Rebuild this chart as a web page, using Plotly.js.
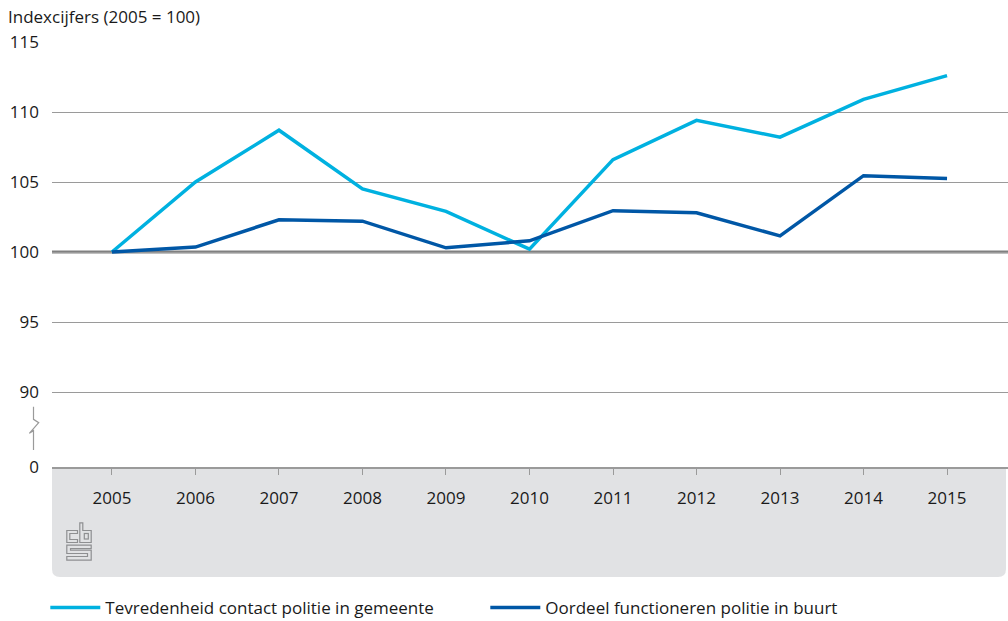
<!DOCTYPE html>
<html>
<head>
<meta charset="utf-8">
<script src="https://cdn.plot.ly/plotly-3.0.1.min.js"></script>
<style>html,body{margin:0;padding:0;background:#fff;}#chart{width:1008px;height:621px;}</style>
</head>
<body>
<div id="chart"></div>
<script>
// Data
var years = [2005, 2006, 2007, 2008, 2009, 2010, 2011, 2012, 2013, 2014, 2015];
var tevredenheid = [100, 105.0, 108.7, 104.5, 102.9, 100.2, 106.6, 109.4, 108.2, 110.9, 112.6];
var oordeel = [100, 100.35, 102.3, 102.2, 100.3, 100.8, 102.95, 102.8, 101.15, 105.45, 105.25];
var seriesNames = ['Tevredenheid contact politie in gemeente', 'Oordeel functioneren politie in buurt'];
var yTickLabels = ['0', '90', '95', '100', '105', '110', '115'];
var yTickValues = [90, 95, 100, 105, 110, 115];
var titleText = 'Indexcijfers (2005 = 100)';

var FONT = 'Open Sans, Liberation Sans, sans-serif';
var FS = 17;
var yBottom = 84.643; // position where the broken axis shows 0
var tickvals = [yBottom].concat(yTickValues);

var logoSvg = '<svg xmlns="http://www.w3.org/2000/svg" width="26" height="39" viewBox="0 0 26 39">' +
  '<g fill="none" stroke="#8e8f91" stroke-width="1.2">' +
  '<path d="M11.5,8.5 H0.8 V20.5 H11.5 V17.5 H3.8 V11.5 H11.5 Z"/>' +
  '<path d="M13.8,0.8 V20.5 H25.2 V8.5 H16.8 V0.8 Z"/>' +
  '<rect x="18.3" y="11.5" width="4" height="5.5"/>' +
  '<path d="M25.2,23.2 H0.8 V31.5 H21.5 V34.5 H0.8 V38.2 H25.2 V28.2 H4.5 V26.5 H25.2 Z"/>' +
  '</g></svg>';

var traces = [
  {x: years, y: tevredenheid, name: seriesNames[0], type: 'scatter', mode: 'lines',
   line: {color: '#00b1e0', width: 3.5}},
  {x: years, y: oordeel, name: seriesNames[1], type: 'scatter', mode: 'lines',
   line: {color: '#0057a6', width: 3.5}}
];

var pw = 956, ph = 425;
var layout = {
  width: 1008, height: 621,
  margin: {l: 52, r: 0, t: 42, b: 154, autoexpand: false},
  paper_bgcolor: '#ffffff', plot_bgcolor: '#ffffff',
  font: {family: FONT, size: FS, color: '#1a1a1a'},
  title: {text: titleText, x: 8/1008, xref: 'container', xanchor: 'left',
          y: 1 - 17/621, yref: 'container', yanchor: 'middle',
          font: {family: FONT, size: FS, color: '#1a1a1a'}},
  showlegend: true,
  legend: {orientation: 'h', x: -0.007, xanchor: 'left', y: (467-608)/425, yanchor: 'middle',
           font: {family: FONT, size: FS, color: '#1a1a1a'},
           entrywidth: 375, entrywidthmode: 'pixels', itemwidth: 50,
           bgcolor: 'rgba(0,0,0,0)'},
  xaxis: {range: [2004.282, 2015.73], tickvals: years, ticktext: years.map(String),
          showgrid: false, zeroline: false, showline: true, linecolor: '#9a9a9a', linewidth: 1.5,
          ticks: 'outside', ticklen: 6, tickcolor: '#9a9a9a', tickwidth: 1,
          ticklabelstandoff: 9, tickfont: {family: FONT, size: FS, color: '#1a1a1a'},
          fixedrange: true},
  yaxis: {range: [yBottom, 115], tickvals: tickvals, ticktext: yTickLabels,
          showgrid: true, gridcolor: '#9a9a9a', gridwidth: 1, zeroline: false,
          showline: false, ticks: '', ticklabelstandoff: 12,
          tickfont: {family: FONT, size: FS, color: '#1a1a1a'}, fixedrange: true},
  shapes: [
    // grey panel under the x axis with rounded bottom corners
    {type: 'path', xref: 'paper', yref: 'paper', layer: 'below',
     path: 'M0,0 L' + (1-2/pw) + ',0 L' + (1-2/pw) + ',' + (-(102/ph)) +
           ' Q' + (1-2/pw) + ',' + (-(110/ph)) + ' ' + (1-10/pw) + ',' + (-(110/ph)) +
           ' L' + (8/pw) + ',' + (-(110/ph)) +
           ' Q0,' + (-(110/ph)) + ' 0,' + (-(102/ph)) + ' Z',
     fillcolor: '#e1e2e4', line: {width: 0}},
    // reference line at 100
    {type: 'line', xref: 'paper', yref: 'y', x0: 0, x1: 1, y0: 100, y1: 100, layer: 'between',
     line: {color: '#808080', width: 3}},
    // axis break symbol
    {type: 'path', xref: 'paper', xsizemode: 'pixel', xanchor: 0, yref: 'y', layer: 'above',
     path: 'M-18.5,88.95 L-18.5,88.05 L-13.3,87.81 L-22.7,87.05 L-18.5,87.24 L-18.5,85.86',
     line: {color: '#9a9a9a', width: 1.2}}
  ],
  images: [
    {source: 'data:image/svg+xml;charset=utf-8,' + encodeURIComponent(logoSvg),
     xref: 'paper', yref: 'paper', x: (66-52)/pw, y: -(522-467)/ph, sizex: 26/pw, sizey: 39/ph,
     xanchor: 'left', yanchor: 'top', sizing: 'stretch', layer: 'above'}
  ]
};

Plotly.newPlot('chart', traces, layout, {displayModeBar: false, staticPlot: true});
</script>
</body>
</html>
